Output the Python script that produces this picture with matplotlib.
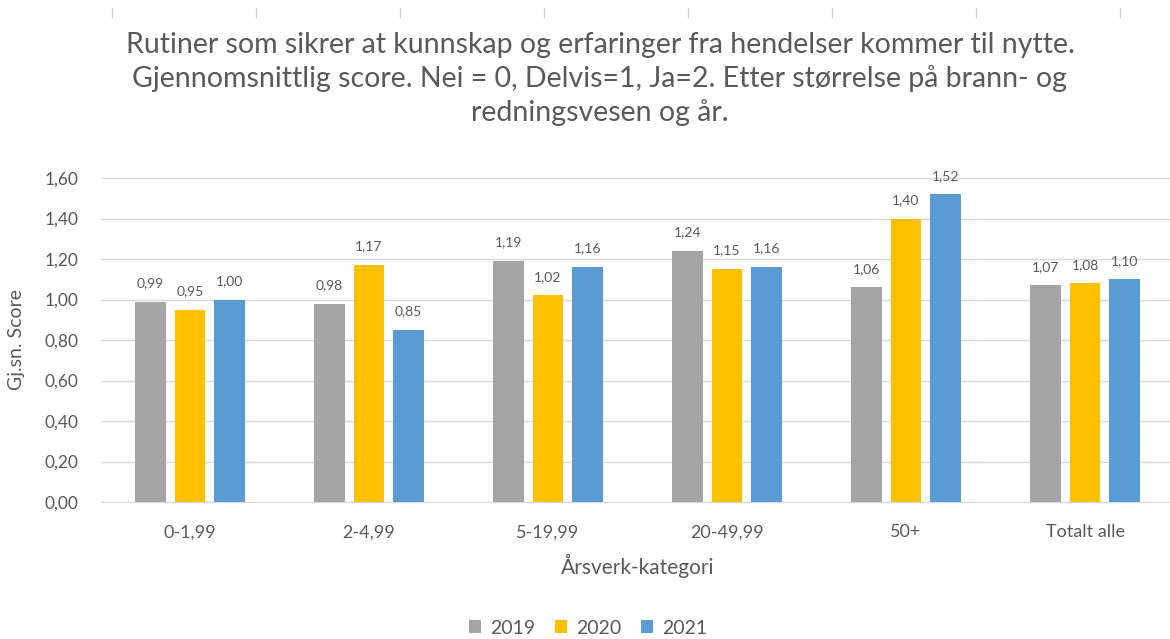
import matplotlib
matplotlib.use("Agg")
import matplotlib.pyplot as plt
from matplotlib.lines import Line2D
import numpy as np

categories = ["0-1,99", "2-4,99", "5-19,99", "20-49,99", "50+", "Totalt alle"]
years = ["2019", "2020", "2021"]
v2019 = [0.99, 0.98, 1.19, 1.24, 1.06, 1.07]
v2020 = [0.95, 1.17, 1.02, 1.15, 1.40, 1.08]
v2021 = [1.00, 0.85, 1.16, 1.16, 1.52, 1.10]
yticks = [0.0, 0.2, 0.4, 0.6, 0.8, 1.0, 1.2, 1.4, 1.6]

colors = ["#A5A5A5", "#FFC000", "#5B9BD5"]
txt = "#595959"
plt.rcParams['font.family'] = ['Lato', 'DejaVu Sans']

fig = plt.figure(figsize=(11.7, 6.39), dpi=100)
ax = fig.add_axes([100.5/1170, 1-502/639, 1074/1170, (502-178)/639])

x = np.arange(len(categories))
w = 0.17
step = 0.22
for i, (vals, c) in enumerate(zip([v2019, v2020, v2021], colors)):
    bars = ax.bar(x + (i-1)*step, vals, width=w, color=c, label=years[i], zorder=3)
    for b, v in zip(bars, vals):
        ax.annotate(f"{v:.2f}".replace(".", ","), (b.get_x()+b.get_width()/2, v),
                    xytext=(0, 9), textcoords="offset points", ha="center", va="bottom",
                    fontsize=10, color=txt)

ax.set_xlim(-0.5, len(categories)-0.5)
ax.set_ylim(0, 1.6)
ax.set_yticks(yticks)
ax.set_yticklabels([f"{t:.2f}".replace(".", ",") for t in yticks], fontsize=12.5, color=txt)
ax.set_xticks(x)
ax.set_xticklabels(categories, fontsize=13, color=txt)
ax.tick_params(axis='y', length=0, pad=16)
ax.tick_params(axis='x', length=0, pad=16)
ax.yaxis.grid(True, color="#D9D9D9", linewidth=1, zorder=0)
for s in ["top", "right", "left"]:
    ax.spines[s].set_visible(False)
ax.spines["bottom"].set_color("#D9D9D9")
ax.set_ylabel("Gj.sn. Score", fontsize=14, color=txt, labelpad=14)
ax.set_xlabel("Årsverk-kategori", fontsize=15, color=txt, labelpad=10)

fig.text(600/1170, 1-79/639,
         "Rutiner som sikrer at kunnskap og erfaringer fra hendelser kommer til nytte.\n"
         "Gjennomsnittlig score. Nei = 0, Delvis=1, Ja=2. Etter størrelse på brann- og\n"
         "redningsvesen og år.", ha="center", va="center", fontsize=20.5, color=txt,
         linespacing=1.3)

fig.legend(loc="center", bbox_to_anchor=(588/1170, 1-628/639), ncol=3, frameon=False,
           fontsize=14, handlelength=0.65, handleheight=0.65, handletextpad=0.45,
           columnspacing=1.0, labelcolor=txt)

for xp in [112, 256, 400, 544, 688, 832, 976, 1120]:
    fig.add_artist(Line2D([xp/1170, xp/1170], [1-8/639, 1-17/639], color="#D0D0D0", linewidth=1))

fig.savefig("out.png", dpi=100)
